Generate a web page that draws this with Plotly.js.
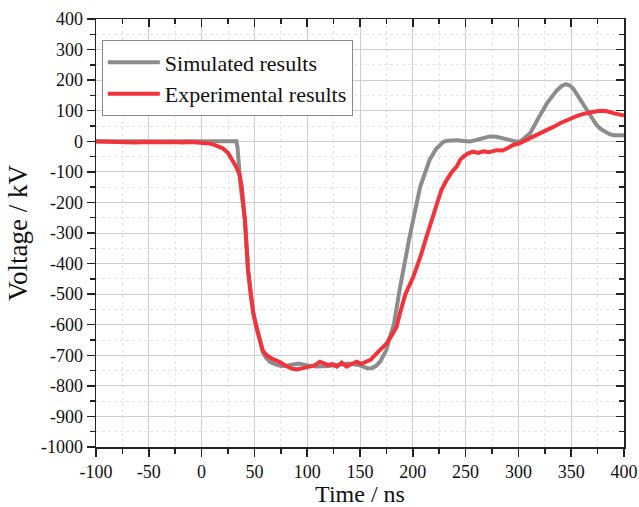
<!DOCTYPE html>
<html>
<head>
<meta charset="utf-8">
<script src="https://cdn.plot.ly/plotly-3.0.1.min.js"></script>
<style>html,body{margin:0;padding:0;background:#fff}#chart{width:639px;height:507px}</style>
</head>
<body>
<div id="chart"></div>
<script>
const simX = [-100,33,34,35,37,41,44,49,55,58,61,65,70,75,80,85,92,100,109,120,128,140,150,157,161,165,169,172,175,178.4,182,188,197,207,212,216,222,226,229,233,236,242,248,254,262,268,273,279,285,292,298,302,305,311,318,327,336,341,345,349,352,356,361,368,374,378,382,386,390,395,400];
const simY = [0,0,-20,-60,-150,-257,-421,-563,-655,-690,-708,-722,-730,-735,-734,-730,-727,-733,-737,-735,-731,-727,-733,-742,-742,-735,-721,-705,-683,-639,-600,-476,-312,-149,-95,-60,-25,-10,-2,2,3,3,1,-1,6,12,16,15,10,3,-1,0,8,26,70,124,165,181,187,182,172,150,124,85,53,40,30,24,20,19,20];

const expX = [-100,-92,-85,-78,-70,-62,-55,-48,-40,-32,-25,-18,-10,-3,3,7,12,16,20,25,29,33,36,38,41,44,46.5,49,52,55.3,58,61.6,67,74,80,86,90,96,102.6,107,112,116,120,124,128,132.7,137.4,141,146.9,151,156.3,160,165.8,170,175.3,180,184.7,188,193,200.5,207,213,218,222.6,227,232,237,241.6,245,248,252,257,262,267,272,279.5,285,290,295,300,305,311,318,326.8,333,340,349,355,360,364.7,370,377.3,383,390,395,400];
const expY = [-1,-2,0,-3,-2,-4,-2,-3,-1,-3,-2,-4,-2,-3,-4,-7,-12,-17,-23,-38,-61,-85,-110,-150,-257,-421,-500,-563,-610,-655,-685,-700,-712,-722,-735,-744,-746,-742,-737,-733,-721,-727,-732,-729,-737,-724,-737,-730,-721,-728,-721,-715,-694,-680,-661,-635,-607,-560,-500,-443,-380,-312,-255,-203,-160,-127,-100,-83,-60,-50,-40,-34,-38,-33,-36,-29,-30,-22,-12,-8,0,10,22,37,47,60,75,82,88,93,96,100,99,92,88,84];

const xTicks = [-100,-50,0,50,100,150,200,250,300,350,400];
const yTicks = [-1000,-900,-800,-700,-600,-500,-400,-300,-200,-100,0,100,200,300,400];

const FAM = 'Liberation Serif';

const traces = [
  {x: simX, y: simY, mode: 'lines', name: 'Simulated results', line: {color: '#8c8c8c', width: 4}},
  {x: expX, y: expY, mode: 'lines', name: 'Experimental results', line: {color: '#f2333b', width: 4}},
  {x: [null], y: [null], xaxis: 'x2', yaxis: 'y2', showlegend: false, hoverinfo: 'skip'}
];

function axBase() {
  return {
    showline: true, linecolor: '#222', linewidth: 1.5, zeroline: false,
    gridcolor: '#cfcfcf', gridwidth: 1,
    tickfont: {family: FAM, size: 18, color: '#111'},
    tickcolor: '#222', ticklen: 8, tickwidth: 1.5
  };
}

const layout = {
  width: 639, height: 507,
  margin: {l: 96, r: 15, t: 19, b: 60},
  paper_bgcolor: '#fff', plot_bgcolor: '#fff',
  showlegend: true,
  font: {family: FAM, color: '#111', size: 18},
  legend: {
    x: 0.011, y: 0.95, xanchor: 'left', yanchor: 'top',
    bgcolor: '#fff', bordercolor: '#888', borderwidth: 1,
    font: {family: FAM, size: 22, color: '#111'},
    itemwidth: 52, tracegroupgap: 0
  },
  xaxis: Object.assign(axBase(), {
    range: [-100, 400], tickvals: xTicks, ticktext: xTicks.map(String), ticks: 'outside',
    minor: {dtick: 25, tick0: -100, ticks: 'outside', ticklen: 5, tickcolor: '#222', showgrid: true, gridcolor: '#e6e6e6', griddash: 'dot'},
    title: {text: 'Time / ns', font: {family: FAM, size: 24, color: '#111'}, standoff: 7}
  }),
  yaxis: Object.assign(axBase(), {
    range: [-1000, 400], tickvals: yTicks, ticktext: yTicks.map(String), ticks: 'outside',
    minor: {dtick: 50, tick0: -1000, ticks: 'outside', ticklen: 5, tickcolor: '#222', showgrid: true, gridcolor: '#e6e6e6', griddash: 'dot'},
    title: {text: 'Voltage / kV', font: {family: FAM, size: 27, color: '#111'}, standoff: 5}
  }),
  xaxis2: {
    overlaying: 'x', side: 'top', anchor: 'y2', range: [-100, 400], showgrid: false, zeroline: false,
    showline: true, linecolor: '#222', linewidth: 1.5, showticklabels: false,
    tickvals: xTicks, ticks: 'inside', ticklen: 8, tickwidth: 1.5, tickcolor: '#222',
    minor: {dtick: 25, tick0: -100, ticks: 'inside', ticklen: 5, tickcolor: '#222', showgrid: false}
  },
  yaxis2: {
    overlaying: 'y', side: 'right', anchor: 'x2', range: [-1000, 400], showgrid: false, zeroline: false,
    showline: true, linecolor: '#222', linewidth: 1.5, showticklabels: false,
    tickvals: yTicks, ticks: 'inside', ticklen: 8, tickwidth: 1.5, tickcolor: '#222',
    minor: {dtick: 50, tick0: -1000, ticks: 'inside', ticklen: 5, tickcolor: '#222', showgrid: false}
  }
};

Plotly.newPlot('chart', traces, layout, {staticPlot: true, displayModeBar: false});
</script>
</body>
</html>
